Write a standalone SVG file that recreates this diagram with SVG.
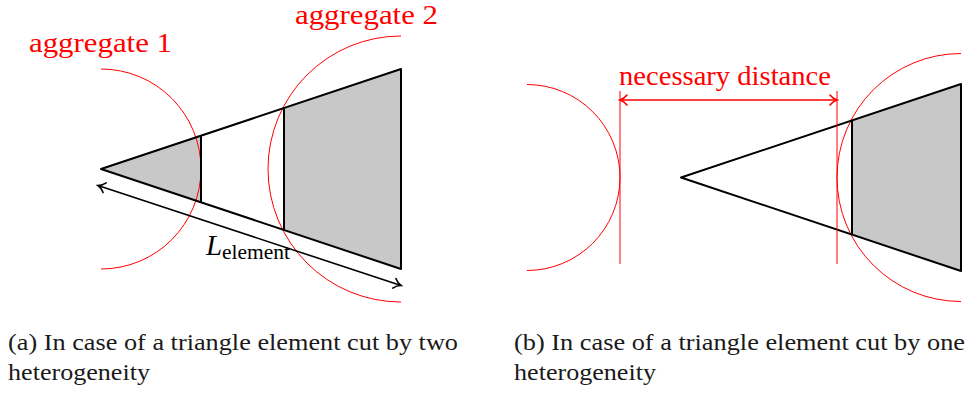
<svg xmlns="http://www.w3.org/2000/svg" width="974" height="398" viewBox="0 0 974 398">
<defs>
<style>
.blk{fill:none;stroke:#000;stroke-width:2;stroke-linejoin:round}
.shade{fill:#c8c8c8;stroke:none}
.red{fill:none;stroke:#ff0000;stroke-width:1}
.rtxt{font-family:'Liberation Serif','DejaVu Serif','Times New Roman',serif;fill:#ff0000;font-size:28px}
.ktxt{font-family:'Liberation Serif','DejaVu Serif','Times New Roman',serif;fill:#000}
.cap{font-family:'Liberation Serif','DejaVu Serif','Times New Roman',serif;fill:#1a1a1a;font-size:23px}
</style>
<marker id="ak" markerUnits="userSpaceOnUse" viewBox="-9 -7 11 14" markerWidth="11" markerHeight="14" refX="0" refY="0" orient="auto-start-reverse">
<path d="M-7,-5 C-5,-2.5 -2,-0.6 0,0 C-2,0.6 -5,2.5 -7,5" fill="none" stroke="#000" stroke-width="1.6" stroke-linecap="round"/>
</marker>
<marker id="ar" markerUnits="userSpaceOnUse" viewBox="-9 -7 11 14" markerWidth="11" markerHeight="14" refX="0" refY="0" orient="auto-start-reverse">
<path d="M-7,-5 C-5,-2.5 -2,-0.6 0,0 C-2,0.6 -5,2.5 -7,5" fill="none" stroke="#ff0000" stroke-width="1.6" stroke-linecap="round"/>
</marker>
</defs>

<g id="fig-a">
<g id="a-shading">
<polygon class="shade" points="101,169 201,135.7 201,202.3"/>
<polygon class="shade" points="284,108 401,69 401,269 284,230"/>
</g>
<g id="a-aggregate1">
<path class="red" d="M101,69 A100,100 0 0 1 101,269"/>
<text class="rtxt" x="29" y="52" textLength="143" lengthAdjust="spacingAndGlyphs">aggregate 1</text>
</g>
<g id="a-aggregate2">
<path class="red" d="M401,36 A133,133 0 0 0 401,302"/>
<text class="rtxt" x="295" y="24" font-size="26" textLength="143" lengthAdjust="spacingAndGlyphs">aggregate 2</text>
</g>
<g id="a-element">
<polygon class="blk" points="101,169 401,69 401,269"/>
<line class="blk" x1="201" y1="135.7" x2="201" y2="202.3"/>
<line class="blk" x1="284" y1="108" x2="284" y2="230"/>
</g>
<g id="a-connectors">
<line x1="98" y1="185.5" x2="401" y2="285.5" stroke="#000" stroke-width="1.6" marker-start="url(#ak)" marker-end="url(#ak)"/>
</g>
<g id="a-label">
<text class="ktxt" x="206" y="255" font-size="29" font-style="italic">L</text>
<text class="ktxt" x="222" y="259" font-size="20" textLength="68" lengthAdjust="spacingAndGlyphs">element</text>
</g>
</g>

<g id="fig-b">
<g id="b-shading">
<polygon class="shade" points="852,120.5 961,84 961,271 852,234.5"/>
</g>
<g id="b-aggregate-left">
<path class="red" d="M527,84.5 A93,93 0 0 1 527,270.5"/>
</g>
<g id="b-aggregate-right">
<path class="red" d="M961,53.5 A124,124 0 0 0 961,301.5"/>
</g>
<g id="b-element">
<polygon class="blk" points="681,177.5 961,84 961,271"/>
<line class="blk" x1="852" y1="120.5" x2="852" y2="234.5"/>
</g>
<g id="b-connectors">
<line class="red" x1="620" y1="91" x2="620" y2="264"/>
<line class="red" x1="837" y1="91" x2="837" y2="264"/>
<line x1="620" y1="100" x2="837" y2="100" stroke="#ff0000" stroke-width="1.6" marker-start="url(#ar)" marker-end="url(#ar)"/>
</g>
<g id="b-label">
<text class="rtxt" x="619" y="85" textLength="212" lengthAdjust="spacingAndGlyphs">necessary distance</text>
</g>
</g>

<g id="captions">
<text class="cap" x="8" y="350" textLength="450" lengthAdjust="spacingAndGlyphs">(a) In case of a triangle element cut by two</text>
<text class="cap" x="8" y="380" textLength="142" lengthAdjust="spacingAndGlyphs">heterogeneity</text>
<text class="cap" x="514" y="350" textLength="451" lengthAdjust="spacingAndGlyphs">(b) In case of a triangle element cut by one</text>
<text class="cap" x="514" y="380" textLength="142" lengthAdjust="spacingAndGlyphs">heterogeneity</text>
</g>
</svg>
